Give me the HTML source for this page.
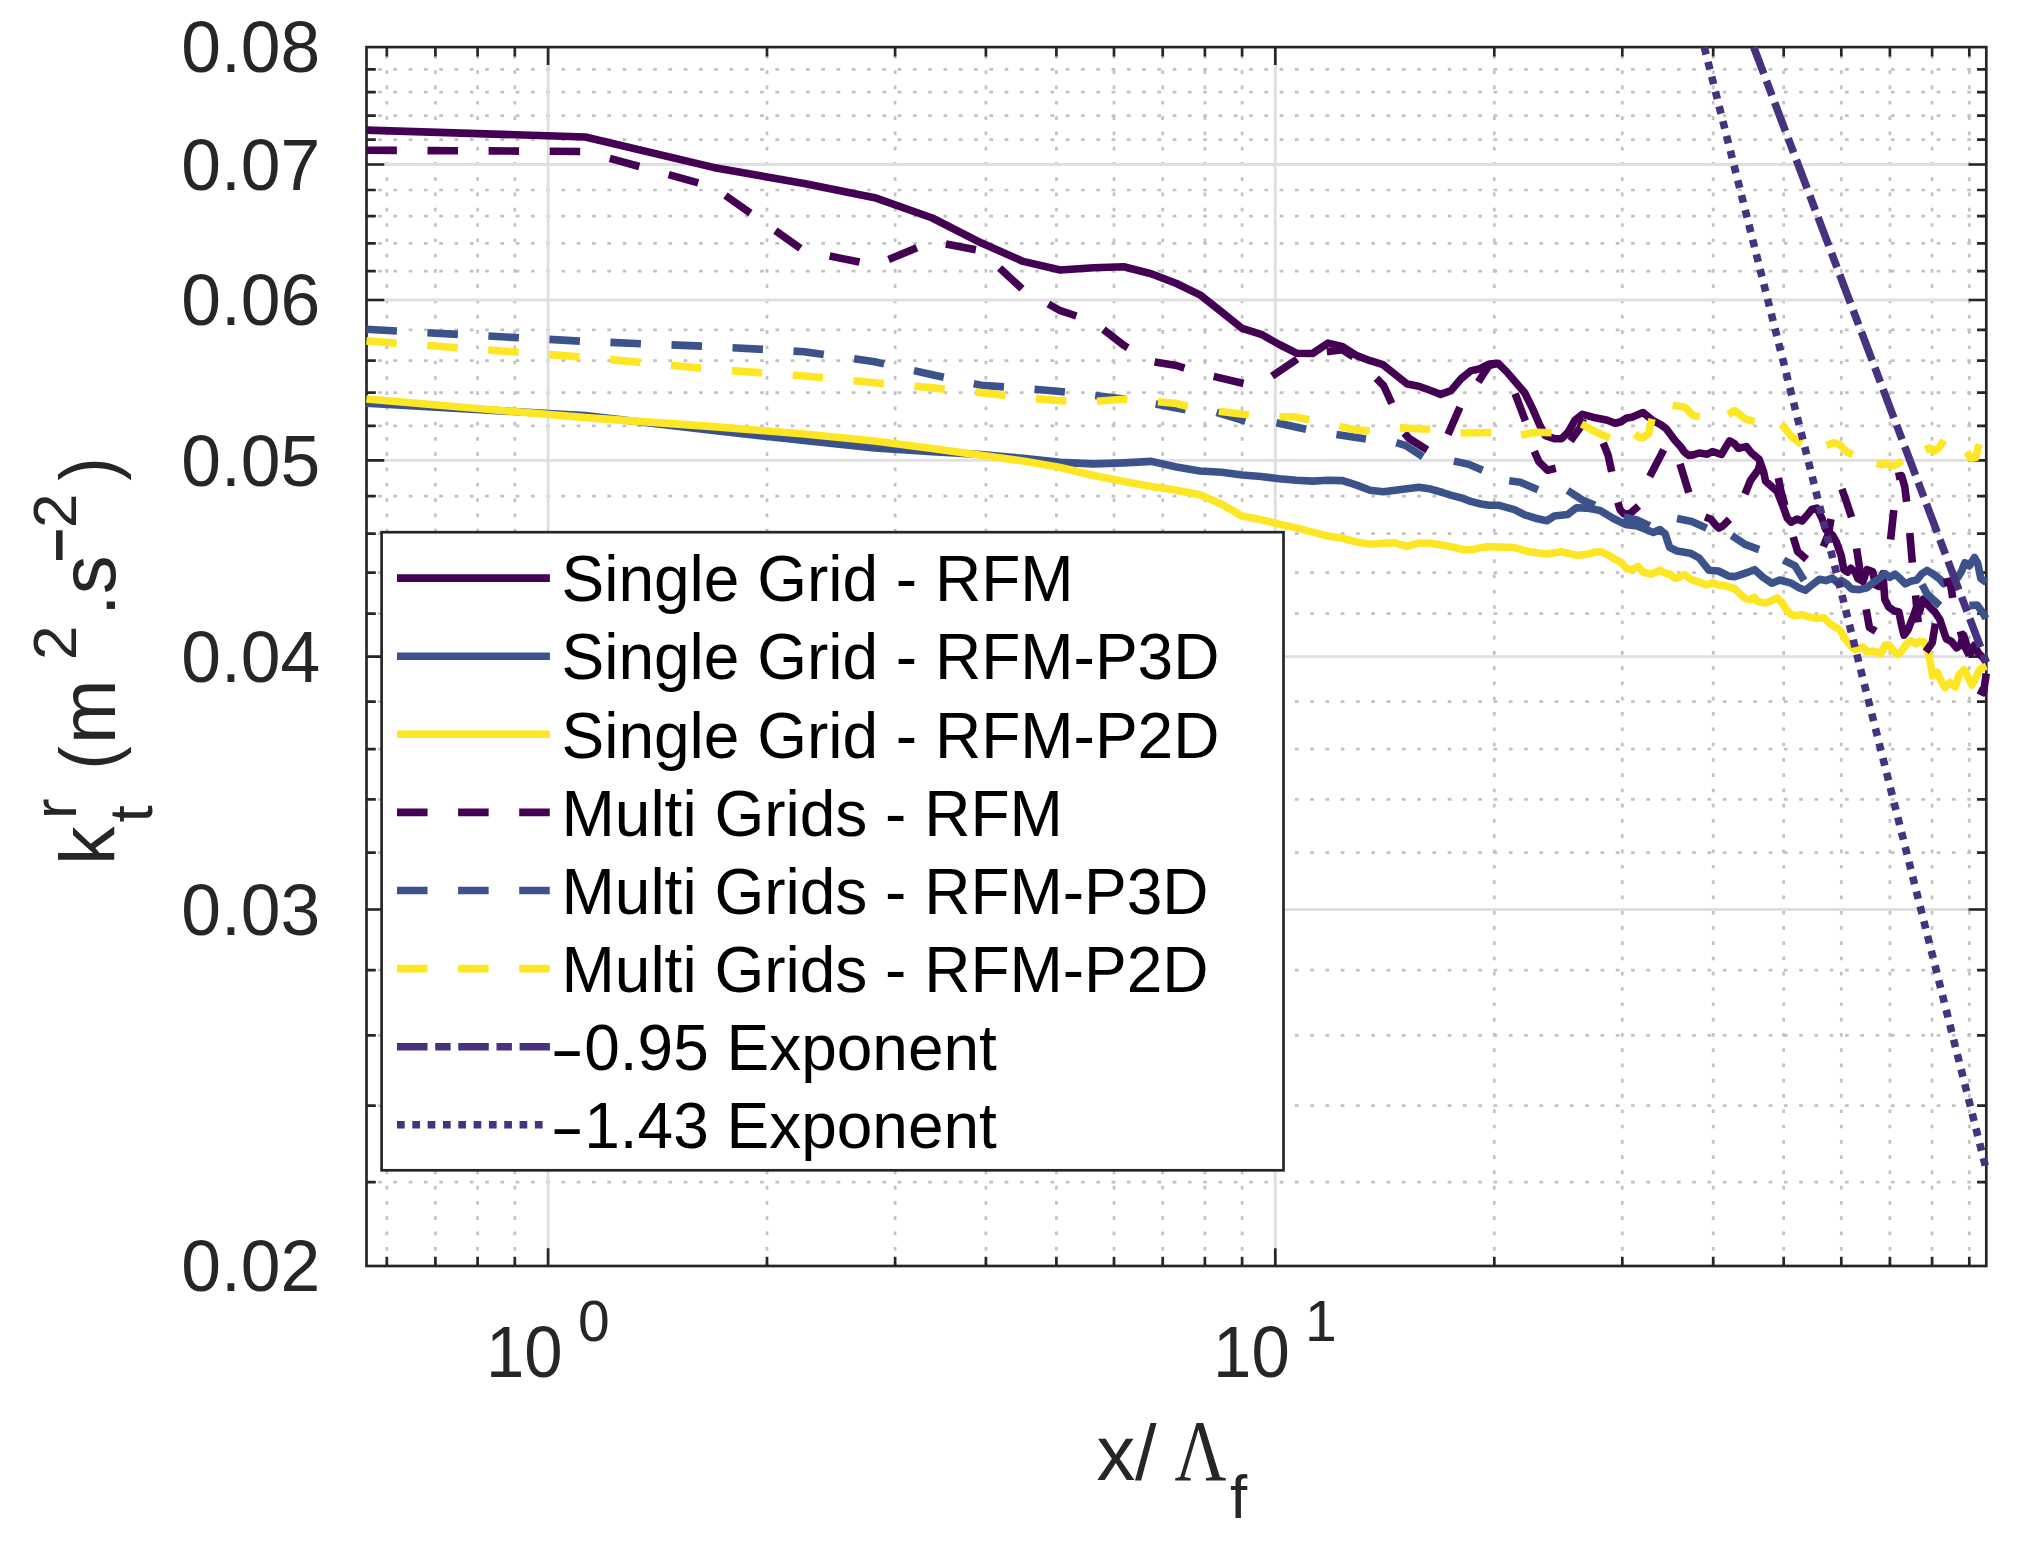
<!DOCTYPE html>
<html><head><meta charset="utf-8"><title>plot</title><style>html,body{margin:0;padding:0;background:#fff}</style></head><body>
<svg width="2029" height="1545" viewBox="0 0 2029 1545" style="display:block">
<rect width="2029" height="1545" fill="#fff"/>
<g stroke="#c2c2c2" stroke-width="2.7" stroke-dasharray="3.7 11.58" fill="none">
<path d="M386.8 1266.0V47.1" stroke-dashoffset="15.16"/>
<path d="M435.4 1266.0V47.1" stroke-dashoffset="15.16"/>
<path d="M477.6 1266.0V47.1" stroke-dashoffset="15.16"/>
<path d="M514.8 1266.0V47.1" stroke-dashoffset="15.16"/>
<path d="M767.0 1266.0V47.1" stroke-dashoffset="15.16"/>
<path d="M895.1 1266.0V47.1" stroke-dashoffset="15.16"/>
<path d="M985.9 1266.0V47.1" stroke-dashoffset="15.16"/>
<path d="M1056.4 1266.0V47.1" stroke-dashoffset="15.16"/>
<path d="M1114.0 1266.0V47.1" stroke-dashoffset="15.16"/>
<path d="M1162.7 1266.0V47.1" stroke-dashoffset="15.16"/>
<path d="M1204.9 1266.0V47.1" stroke-dashoffset="15.16"/>
<path d="M1242.1 1266.0V47.1" stroke-dashoffset="15.16"/>
<path d="M1494.3 1266.0V47.1" stroke-dashoffset="15.16"/>
<path d="M1622.3 1266.0V47.1" stroke-dashoffset="15.16"/>
<path d="M1713.2 1266.0V47.1" stroke-dashoffset="15.16"/>
<path d="M1783.7 1266.0V47.1" stroke-dashoffset="15.16"/>
<path d="M1841.3 1266.0V47.1" stroke-dashoffset="15.16"/>
<path d="M1889.9 1266.0V47.1" stroke-dashoffset="15.16"/>
<path d="M1932.1 1266.0V47.1" stroke-dashoffset="15.16"/>
<path d="M1969.3 1266.0V47.1" stroke-dashoffset="15.16"/>
<path d="M366.5 1182.2H1986.3" stroke-dashoffset="3.65"/>
<path d="M366.5 1105.7H1986.3" stroke-dashoffset="3.65"/>
<path d="M366.5 1035.3H1986.3" stroke-dashoffset="3.65"/>
<path d="M366.5 970.2H1986.3" stroke-dashoffset="3.65"/>
<path d="M366.5 852.7H1986.3" stroke-dashoffset="3.65"/>
<path d="M366.5 799.4H1986.3" stroke-dashoffset="3.65"/>
<path d="M366.5 749.2H1986.3" stroke-dashoffset="3.65"/>
<path d="M366.5 701.6H1986.3" stroke-dashoffset="3.65"/>
<path d="M366.5 613.7H1986.3" stroke-dashoffset="3.65"/>
<path d="M366.5 572.7H1986.3" stroke-dashoffset="3.65"/>
<path d="M366.5 533.7H1986.3" stroke-dashoffset="3.65"/>
<path d="M366.5 496.2H1986.3" stroke-dashoffset="3.65"/>
<path d="M366.5 425.9H1986.3" stroke-dashoffset="3.65"/>
<path d="M366.5 392.7H1986.3" stroke-dashoffset="3.65"/>
<path d="M366.5 360.7H1986.3" stroke-dashoffset="3.65"/>
<path d="M366.5 329.9H1986.3" stroke-dashoffset="3.65"/>
<path d="M366.5 271.2H1986.3" stroke-dashoffset="3.65"/>
<path d="M366.5 243.3H1986.3" stroke-dashoffset="3.65"/>
<path d="M366.5 216.2H1986.3" stroke-dashoffset="3.65"/>
<path d="M366.5 190.0H1986.3" stroke-dashoffset="3.65"/>
<path d="M366.5 139.7H1986.3" stroke-dashoffset="3.65"/>
<path d="M366.5 115.6H1986.3" stroke-dashoffset="3.65"/>
<path d="M366.5 92.2H1986.3" stroke-dashoffset="3.65"/>
<path d="M366.5 69.4H1986.3" stroke-dashoffset="3.65"/>
</g>
<g stroke="#dfdfdf" stroke-width="2.9" fill="none">
<path d="M548.1 1266.0V47.1"/>
<path d="M1275.3 1266.0V47.1"/>
<path d="M366.5 909.5H1986.3"/>
<path d="M366.5 656.6H1986.3"/>
<path d="M366.5 460.4H1986.3"/>
<path d="M366.5 300.0H1986.3"/>
<path d="M366.5 164.5H1986.3"/>
</g>
<g stroke="#262626" stroke-width="2.7" fill="none">
<rect x="366.5" y="47.1" width="1619.8" height="1218.9"/>
<path d="M548.1 1266.0v-17.8M548.1 47.1v17.8"/>
<path d="M1275.3 1266.0v-17.8M1275.3 47.1v17.8"/>
<path d="M386.8 1266.0v-9.3M386.8 47.1v9.3"/>
<path d="M435.4 1266.0v-9.3M435.4 47.1v9.3"/>
<path d="M477.6 1266.0v-9.3M477.6 47.1v9.3"/>
<path d="M514.8 1266.0v-9.3M514.8 47.1v9.3"/>
<path d="M767.0 1266.0v-9.3M767.0 47.1v9.3"/>
<path d="M895.1 1266.0v-9.3M895.1 47.1v9.3"/>
<path d="M985.9 1266.0v-9.3M985.9 47.1v9.3"/>
<path d="M1056.4 1266.0v-9.3M1056.4 47.1v9.3"/>
<path d="M1114.0 1266.0v-9.3M1114.0 47.1v9.3"/>
<path d="M1162.7 1266.0v-9.3M1162.7 47.1v9.3"/>
<path d="M1204.9 1266.0v-9.3M1204.9 47.1v9.3"/>
<path d="M1242.1 1266.0v-9.3M1242.1 47.1v9.3"/>
<path d="M1494.3 1266.0v-9.3M1494.3 47.1v9.3"/>
<path d="M1622.3 1266.0v-9.3M1622.3 47.1v9.3"/>
<path d="M1713.2 1266.0v-9.3M1713.2 47.1v9.3"/>
<path d="M1783.7 1266.0v-9.3M1783.7 47.1v9.3"/>
<path d="M1841.3 1266.0v-9.3M1841.3 47.1v9.3"/>
<path d="M1889.9 1266.0v-9.3M1889.9 47.1v9.3"/>
<path d="M1932.1 1266.0v-9.3M1932.1 47.1v9.3"/>
<path d="M1969.3 1266.0v-9.3M1969.3 47.1v9.3"/>
<path d="M366.5 909.5h17.8M1986.3 909.5h-17.8"/>
<path d="M366.5 656.6h17.8M1986.3 656.6h-17.8"/>
<path d="M366.5 460.4h17.8M1986.3 460.4h-17.8"/>
<path d="M366.5 300.0h17.8M1986.3 300.0h-17.8"/>
<path d="M366.5 164.5h17.8M1986.3 164.5h-17.8"/>
<path d="M366.5 1182.2h9.3M1986.3 1182.2h-9.3"/>
<path d="M366.5 1105.7h9.3M1986.3 1105.7h-9.3"/>
<path d="M366.5 1035.3h9.3M1986.3 1035.3h-9.3"/>
<path d="M366.5 970.2h9.3M1986.3 970.2h-9.3"/>
<path d="M366.5 852.7h9.3M1986.3 852.7h-9.3"/>
<path d="M366.5 799.4h9.3M1986.3 799.4h-9.3"/>
<path d="M366.5 749.2h9.3M1986.3 749.2h-9.3"/>
<path d="M366.5 701.6h9.3M1986.3 701.6h-9.3"/>
<path d="M366.5 613.7h9.3M1986.3 613.7h-9.3"/>
<path d="M366.5 572.7h9.3M1986.3 572.7h-9.3"/>
<path d="M366.5 533.7h9.3M1986.3 533.7h-9.3"/>
<path d="M366.5 496.2h9.3M1986.3 496.2h-9.3"/>
<path d="M366.5 425.9h9.3M1986.3 425.9h-9.3"/>
<path d="M366.5 392.7h9.3M1986.3 392.7h-9.3"/>
<path d="M366.5 360.7h9.3M1986.3 360.7h-9.3"/>
<path d="M366.5 329.9h9.3M1986.3 329.9h-9.3"/>
<path d="M366.5 271.2h9.3M1986.3 271.2h-9.3"/>
<path d="M366.5 243.3h9.3M1986.3 243.3h-9.3"/>
<path d="M366.5 216.2h9.3M1986.3 216.2h-9.3"/>
<path d="M366.5 190.0h9.3M1986.3 190.0h-9.3"/>
<path d="M366.5 139.7h9.3M1986.3 139.7h-9.3"/>
<path d="M366.5 115.6h9.3M1986.3 115.6h-9.3"/>
<path d="M366.5 92.2h9.3M1986.3 92.2h-9.3"/>
<path d="M366.5 69.4h9.3M1986.3 69.4h-9.3"/>
</g>
<clipPath id="cp"><rect x="366.5" y="47.1" width="1619.8" height="1218.9"/></clipPath><g fill="none" stroke-width="7.6" stroke-linejoin="round"><path d="M366.4 130.1L585.3 137.0L713.4 167.4L804.2 183.5L874.7 197.7L932.3 218.0L981.0 242.8L1023.1 261.4L1060.3 270.0L1093.6 267.7L1123.7 266.8L1151.2 273.7L1176.5 283.5L1199.9 294.8L1221.7 312.1L1242.1 328.4L1261.2 334.3L1279.3 344.5L1296.4 353.2L1312.6 353.5L1328.0 343.1L1342.7 346.8L1356.7 355.6L1370.1 360.7L1383.0 364.7L1395.4 374.6L1407.3 384.1L1418.8 386.3L1429.9 390.3L1440.6 394.4L1451.0 390.6L1461.0 378.8L1470.7 370.9L1480.1 368.7L1489.3 364.0L1498.1 363.3L1507.0 372.1L1524.7 392.8L1532.1 407.6L1539.5 424.6L1545.4 435.7L1554.3 438.7L1561.7 438.7L1568.3 432.0L1575.0 420.2L1582.4 414.3L1592.7 417.2L1607.5 420.2L1614.9 423.2L1620.8 421.7L1626.7 418.0L1631.9 417.2L1643.0 412.5L1653.4 420.9L1660.7 424.6L1665.9 428.3L1674.8 440.2L1680.7 446.8L1684.4 452.0L1688.8 455.4L1693.3 454.9L1699.2 453.0L1707.3 454.2L1712.5 451.5L1721.4 454.5L1729.5 440.9L1734.7 443.9L1738.4 448.3L1746.4 446.6L1751.5 453.0L1759.2 459.4L1763.7 472.3L1765.6 481.2L1777.2 491.5L1782.3 504.3L1787.4 518.4L1791.3 522.2L1797.0 519.0L1802.1 521.0L1806.6 515.8L1811.8 509.4L1816.9 508.1L1822.0 518.4L1825.9 529.9L1832.3 535.0L1836.1 541.4L1841.2 555.5L1843.8 569.6L1847.6 572.2L1850.8 568.3L1855.3 572.2L1857.9 578.7L1863.0 581.3L1866.9 569.7L1872.6 571.6L1875.8 585.1L1879.0 586.4L1882.9 573.6L1884.8 599.2L1888.6 606.9L1893.8 610.7L1898.9 612.0L1901.5 624.8L1904.0 635.1L1907.9 629.9L1913.0 617.1L1916.8 606.9L1919.4 612.0L1923.2 599.2L1928.4 605.6L1934.8 612.0L1939.9 619.7L1943.7 631.2L1946.3 638.9L1951.4 641.5L1956.6 647.9L1960.4 645.3L1963.6 635.1L1966.8 645.3L1970.7 653.0L1974.5 645.3L1978.3 653.0L1983.5 658.1L1986.3 662.7" stroke="#440154"/><path d="M366.4 403.2L585.3 415.6L713.4 430.5L804.2 440.5L874.7 447.9L932.3 451.6L981.0 454.5L1023.1 458.4L1060.3 462.4L1093.6 463.9L1123.7 462.9L1151.2 461.4L1176.5 467.0L1199.9 471.0L1221.7 472.2L1242.1 475.0L1261.2 476.5L1279.3 478.8L1296.4 480.3L1312.6 481.1L1328.0 480.2L1342.7 480.6L1356.7 485.1L1370.0 490.3L1383.3 491.8L1395.2 490.3L1407.0 488.8L1418.8 487.3L1430.7 489.1L1442.5 492.5L1451.4 495.4L1461.7 498.0L1470.6 501.4L1480.9 504.0L1489.2 505.2L1498.1 505.2L1514.4 509.6L1524.7 514.8L1536.5 518.5L1546.9 520.7L1554.3 516.0L1567.6 514.5L1576.5 507.7L1586.8 508.1L1600.1 510.4L1613.4 518.5L1625.3 524.4L1637.1 525.9L1653.4 532.5L1660.0 529.6L1665.2 534.0L1669.6 547.3L1677.0 551.0L1690.3 553.2L1699.2 558.0L1708.8 570.2L1718.4 571.0L1728.8 576.1L1734.7 576.6L1747.7 572.3L1754.7 569.7L1763.1 577.4L1772.0 583.2L1779.7 580.0L1791.3 583.2L1798.9 587.7L1805.4 590.2L1811.8 585.1L1819.4 579.3L1825.9 580.6L1832.3 578.1L1837.4 582.5L1841.2 580.6L1846.4 583.8L1851.5 588.9L1859.2 589.6L1866.9 587.7L1873.3 582.5L1879.7 578.1L1884.8 573.6L1889.9 577.4L1895.0 574.2L1900.2 578.7L1905.3 583.8L1910.4 581.3L1916.8 580.0L1922.0 573.6L1927.1 570.4L1933.5 574.2L1939.9 579.3L1943.7 583.8L1950.1 581.3L1957.8 577.4L1961.7 571.0L1964.9 562.7L1969.4 565.9L1974.5 557.5L1977.7 563.3L1980.9 578.7L1986.3 582.3" stroke="#3b528b"/><path d="M366.4 399.0L585.3 417.6L713.4 426.6L804.2 434.0L874.7 441.0L932.3 448.6L981.0 455.2L1023.1 461.0L1060.3 467.5L1093.6 475.5L1123.7 481.4L1151.2 486.5L1176.5 490.2L1199.9 494.7L1221.7 504.3L1242.1 516.1L1261.2 519.8L1279.3 524.2L1296.4 527.9L1312.6 532.1L1328.0 536.1L1342.7 538.3L1356.7 542.0L1370.0 544.2L1383.3 543.2L1395.2 542.8L1407.0 546.5L1418.8 543.1L1430.7 543.2L1442.5 545.3L1451.4 546.8L1461.7 549.4L1470.6 549.9L1478.9 548.1L1489.2 546.6L1514.4 547.6L1529.1 551.8L1546.9 554.0L1561.7 551.8L1576.5 555.4L1588.3 554.0L1595.7 552.0L1601.6 551.8L1609.0 555.4L1622.3 563.6L1626.7 568.8L1632.6 569.5L1637.8 566.5L1643.7 572.5L1651.9 573.9L1660.0 570.2L1665.2 573.2L1669.6 573.9L1675.5 578.4L1680.0 576.9L1684.4 574.7L1691.8 579.8L1699.2 582.1L1706.6 585.0L1712.5 582.8L1718.4 585.0L1724.3 585.5L1734.7 588.7L1745.1 598.6L1750.3 599.8L1754.1 597.3L1757.9 601.8L1765.6 603.0L1770.8 601.1L1777.2 597.9L1782.3 603.0L1786.1 609.4L1791.3 614.6L1795.1 615.9L1801.5 614.6L1809.2 617.1L1816.9 618.4L1823.9 617.8L1829.7 623.5L1834.8 626.7L1839.9 629.9L1845.1 638.9L1851.5 646.6L1855.3 649.8L1863.0 647.2L1866.9 651.7L1873.3 651.1L1881.0 653.7L1884.8 645.3L1888.6 644.7L1893.8 651.1L1897.6 654.3L1901.5 651.1L1906.6 644.0L1911.1 640.8L1915.6 644.0L1919.4 641.5L1924.5 642.1L1928.4 653.0L1930.9 665.8L1932.8 676.1L1937.3 672.2L1939.9 678.6L1945.0 687.6L1950.1 682.5L1955.3 687.0L1959.1 674.8L1964.2 669.7L1968.1 677.4L1971.9 685.0L1975.8 677.4L1979.6 669.7L1983.5 667.1L1986.3 666.0" stroke="#fde725"/><path d="M366.4 150.2L396.9 150.4M427.5 150.6L458.0 150.7M488.6 150.9L519.1 151.1M549.7 151.3L580.2 151.5M609.8 158.3L639.3 166.5M668.7 174.6L698.2 182.8M725.4 195.5L750.4 213.1M775.4 230.7L800.4 248.3M829.6 256.1L859.5 262.1M888.6 259.5L916.9 247.8M945.9 244.1L975.9 249.7M999.6 268.0L1022.0 288.8M1048.4 304.0L1060.3 310.7L1076.4 316.0M1103.4 329.4L1123.7 345.3L1127.8 347.7M1154.6 361.9L1176.5 365.5L1184.4 368.1M1213.7 376.4L1243.5 383.5M1272.1 376.1L1297.2 359.1M1326.8 351.7L1342.3 349.8L1353.4 356.9M1376.3 378.3L1383.7 385.7L1391.8 403.5M1404.4 433.0L1408.8 438.2L1427.3 450.0M1448.0 434.5L1459.9 407.2M1478.3 382.0L1489.0 365.5L1497.0 363.5M1515.1 393.6L1525.4 420.9M1534.3 451.2L1538.8 461.6L1547.6 470.2L1555.8 468.3M1570.5 440.9L1580.2 427.6L1583.1 418.7M1603.2 443.0L1608.1 455.2L1611.7 471.7M1617.9 502.3L1620.1 509.7L1623.8 513.8L1629.7 513.8L1638.6 506.0M1649.7 476.4L1663.7 449.8M1680.0 463.8L1688.8 492.6M1705.1 517.0L1711.0 519.3L1715.5 524.9L1719.1 528.1L1722.8 525.9L1729.5 519.3M1745.0 494.0L1750.3 480.8L1758.3 469.7L1760.5 462.0M1778.4 478.0L1781.0 491.5L1784.8 505.6M1793.2 537.0L1797.7 551.7L1806.6 559.4M1823.3 546.6L1828.4 533.8L1831.0 519.0M1841.9 488.9L1846.4 501.7L1851.5 517.1M1856.6 548.5L1861.1 578.0M1890.6 539.5L1893.8 510.1M1895.7 476.7L1901.5 475.5L1904.7 486.4L1906.6 501.7M1909.8 533.1L1912.3 562.6M1866.2 609.4L1869.4 627.4L1875.8 631.2M1915.6 595.4L1918.1 622.3M1925.8 651.7L1932.2 642.8L1935.4 623.5M1943.7 582.5L1950.1 581.3L1952.7 597.9M1960.4 631.2L1964.2 645.3L1969.4 655.6M1978.3 690.2L1983.5 692.7L1986.3 673.5" stroke="#440154"/><path d="M366.4 329.3L396.9 331.0M427.4 332.7L457.9 334.4M488.4 336.0L518.9 337.7M549.4 339.4L579.9 341.1M610.4 342.4L640.9 343.7M671.5 344.9L702.0 346.1M732.5 347.7L763.0 349.4M793.5 351.1L804.2 351.7L823.8 354.5M854.1 358.8L874.7 361.7L884.2 363.9M914.0 370.6L932.3 374.8L943.8 377.3M973.7 383.6L981.0 385.2L1004.0 386.9M1034.5 389.3L1060.3 391.5L1064.9 392.0M1095.2 395.6L1123.7 399.0L1125.6 399.3M1155.7 404.1L1176.5 408.1L1185.7 409.8M1216.6 412.3L1245.4 421.2M1276.5 422.7L1306.1 429.3M1336.4 434.5L1366.0 439.0M1396.3 442.6L1405.9 445.6L1422.9 456.7M1453.9 461.1L1468.0 464.1L1482.6 470.2M1509.2 480.8L1520.3 482.3L1538.0 489.7M1567.6 490.4L1582.4 500.0L1594.9 505.2M1623.8 517.0L1637.1 520.0L1649.7 525.9M1677.0 518.5L1691.8 521.5L1706.6 528.1M1731.7 535.5L1745.0 544.4L1759.1 549.6M1783.6 560.1L1795.1 565.9L1804.1 580.6M1922.0 584.5L1927.1 594.1L1939.9 605.6M1969.4 605.6L1977.1 605.0L1982.2 612.0L1986.0 618.4" stroke="#3b528b"/><path d="M366.4 340.9L396.8 343.2M427.3 345.5L457.8 347.7M488.2 350.0L518.7 352.3M549.2 354.6L579.6 356.9M610.1 359.6L640.5 362.4M670.9 365.3L701.3 368.1M731.8 370.6L762.2 372.9M792.7 375.1L804.2 376.0L823.1 377.8M853.5 380.8L874.7 382.8L883.9 383.6M914.4 386.3L932.3 387.9L944.8 389.1M975.2 392.0L981.0 392.6L1005.6 395.5M1035.9 398.6L1060.3 400.8L1066.4 400.9M1096.9 401.2L1123.7 399.2L1127.4 399.5M1157.9 401.8L1176.5 403.5L1187.9 406.7M1218.8 411.2L1248.9 414.9M1279.5 416.8L1293.5 416.8L1309.5 419.7M1339.3 426.4L1357.1 430.1L1369.7 430.8M1400.0 427.9L1430.3 429.3M1460.6 433.0L1491.4 432.5M1521.0 435.0L1536.5 432.3L1551.6 432.8M1581.6 423.9L1595.7 432.0L1609.7 437.9M1634.9 433.7L1638.7 437.1L1643.6 437.6L1648.6 433.7L1650.5 424.9L1652.0 418.9M1672.6 405.4L1684.4 406.9L1693.3 415.8L1699.9 416.5M1728.0 414.3L1734.7 410.6L1745.0 418.7L1747.7 419.7L1754.7 421.6M1781.6 424.2L1791.3 436.4L1801.5 444.1M1826.5 445.4L1833.5 442.8L1839.9 444.7L1846.4 451.8L1852.8 455.0M1876.5 463.3L1881.0 464.6L1887.4 463.9L1892.5 465.9L1897.6 463.9L1902.1 460.7M1925.2 449.8L1929.6 447.9L1934.8 451.1L1939.9 446.6L1943.7 440.2M1966.8 451.8L1970.7 458.2L1975.8 457.5L1979.0 444.1" stroke="#fde725"/><path d="M1753.7 47.1L1986.3 662.3" stroke="#46327e" stroke-dasharray="30.5 7.7 15.4 7.7" stroke-dashoffset="2.00"/><path d="M1704.3 47.1L1986.3 1169.7" stroke="#46327e" stroke-dasharray="7.7 7.575" stroke-dashoffset="0.08"/></g>
<g fill="#262626" font-family="Liberation Sans, Arial, sans-serif" font-size="72.5">
<text x="181.3" y="1291.2" textLength="139" lengthAdjust="spacingAndGlyphs">0.02</text>
<text x="181.3" y="934.7" textLength="139" lengthAdjust="spacingAndGlyphs">0.03</text>
<text x="181.3" y="681.8" textLength="139" lengthAdjust="spacingAndGlyphs">0.04</text>
<text x="181.3" y="485.6" textLength="139" lengthAdjust="spacingAndGlyphs">0.05</text>
<text x="181.3" y="325.2" textLength="139" lengthAdjust="spacingAndGlyphs">0.06</text>
<text x="181.3" y="189.7" textLength="139" lengthAdjust="spacingAndGlyphs">0.07</text>
<text x="181.3" y="72.3" textLength="139" lengthAdjust="spacingAndGlyphs">0.08</text>
<text x="485.9" y="1377.3" textLength="76.6" lengthAdjust="spacingAndGlyphs">10</text>
<text x="577.9" y="1341.4" font-size="57">0</text>
<text x="1213.1" y="1377.3" textLength="76.6" lengthAdjust="spacingAndGlyphs">10</text>
<text x="1305.1" y="1341.4" font-size="57">1</text>
</g>
<g fill="#262626" font-family="Liberation Sans, Arial, sans-serif" style="font-kerning:none"><text transform="translate(114.5 865.0) rotate(-90)" font-size="77.5">k</text><text transform="translate(75.7 818.9) rotate(-90)" font-size="62">r</text><text transform="translate(151.7 822.5) rotate(-90)" font-size="62">t</text><text transform="translate(114.5 769.5) rotate(-90) scale(0.9 1)" font-size="77.5">(</text><text transform="translate(114.5 744.1) rotate(-90)" font-size="77.5">m</text><text transform="translate(75.7 660.1) rotate(-90)" font-size="62">2</text><text transform="translate(114.5 615.9) rotate(-90)" font-size="77.5">.</text><text transform="translate(114.5 594.3) rotate(-90)" font-size="77.5">s</text><text transform="translate(89.5 563.1) rotate(-90) scale(1 1.5)" font-size="61.2">−</text><text transform="translate(75.7 528.1) rotate(-90)" font-size="62">2</text><text transform="translate(114.5 480.7) rotate(-90) scale(0.9 1)" font-size="77.5">)</text><text x="1096.5" y="1479.8" font-size="77.5">x</text><text x="1134.9" y="1479.8" font-size="77.5">/</text><text transform="translate(1174.5 1479.8) scale(0.82 1)" font-family="Liberation Serif, Times New Roman, serif" font-size="87.6">Λ</text><text x="1230.1" y="1517.6" font-size="62">f</text></g>
<g fill="#000" font-family="Liberation Sans, Arial, sans-serif" font-size="65.3" style="font-kerning:none"><rect x="381.6" y="532.2" width="901.9" height="638.1" fill="#fff" stroke="#262626" stroke-width="2.7"/><path d="M397 578.1H549.9" stroke="#440154" stroke-width="7.6" fill="none"/><text x="561.5" y="601.3" textLength="512.1" lengthAdjust="spacingAndGlyphs">Single Grid - RFM</text><path d="M397 656.2H549.9" stroke="#3b528b" stroke-width="7.6" fill="none"/><text x="561.5" y="679.4" textLength="657.9" lengthAdjust="spacingAndGlyphs">Single Grid - RFM-P3D</text><path d="M397 734.3H549.9" stroke="#fde725" stroke-width="7.6" fill="none"/><text x="561.5" y="757.5" textLength="657.9" lengthAdjust="spacingAndGlyphs">Single Grid - RFM-P2D</text><path d="M397 812.4H549.9" stroke="#440154" stroke-width="7.6" fill="none" stroke-dasharray="30.55 30.55"/><text x="561.5" y="835.6" textLength="501.3" lengthAdjust="spacingAndGlyphs">Multi Grids - RFM</text><path d="M397 890.5H549.9" stroke="#3b528b" stroke-width="7.6" fill="none" stroke-dasharray="30.55 30.55"/><text x="561.5" y="913.7" textLength="647.1" lengthAdjust="spacingAndGlyphs">Multi Grids - RFM-P3D</text><path d="M397 968.6H549.9" stroke="#fde725" stroke-width="7.6" fill="none" stroke-dasharray="30.55 30.55"/><text x="561.5" y="991.8" textLength="647.1" lengthAdjust="spacingAndGlyphs">Multi Grids - RFM-P2D</text><path d="M397 1046.7H549.9" stroke="#46327e" stroke-width="7.6" fill="none" stroke-dasharray="30.5 7.7 15.4 7.7"/><text x="584.2" y="1069.9" textLength="412.7" lengthAdjust="spacingAndGlyphs">0.95 Exponent</text><text transform="translate(551.9 1075.8) scale(1 1.3)" font-size="51.8">−</text><path d="M397 1124.8H549.9" stroke="#46327e" stroke-width="7.6" fill="none" stroke-dasharray="7.7 7.62"/><text x="584.2" y="1148.0" textLength="412.7" lengthAdjust="spacingAndGlyphs">1.43 Exponent</text><text transform="translate(551.9 1153.9) scale(1 1.3)" font-size="51.8">−</text></g>
</svg>
</body></html>
